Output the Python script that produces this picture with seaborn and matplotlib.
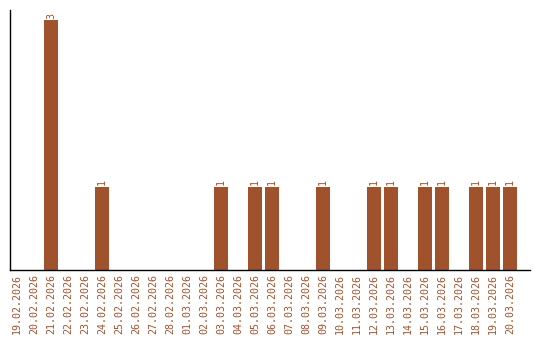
import matplotlib
matplotlib.use("Agg")
import matplotlib.pyplot as plt
import seaborn as sns
import pandas as pd

dates = ["19.02.2026", "20.02.2026", "21.02.2026", "22.02.2026", "23.02.2026",
         "24.02.2026", "25.02.2026", "26.02.2026", "27.02.2026", "28.02.2026",
         "01.03.2026", "02.03.2026", "03.03.2026", "04.03.2026", "05.03.2026",
         "06.03.2026", "07.03.2026", "08.03.2026", "09.03.2026", "10.03.2026",
         "11.03.2026", "12.03.2026", "13.03.2026", "14.03.2026", "15.03.2026",
         "16.03.2026", "17.03.2026", "18.03.2026", "19.03.2026", "20.03.2026"]
counts = [0, 0, 3, 0, 0, 1, 0, 0, 0, 0, 0, 0, 1, 0, 1, 1, 0, 0, 1, 0, 0, 1, 1, 0, 1, 1, 0, 1, 1, 1]

COLOR = "#A0522D"
sns.set_style("white")
plt.rcParams["font.family"] = ["DejaVu Sans Mono", "DejaVu Sans"]

df = pd.DataFrame({"date": dates, "count": counts})
fig = plt.figure(figsize=(5.4, 3.4), dpi=100)
ax = fig.add_axes([10 / 540, 70 / 340, 520 / 540, 260 / 340])
sns.barplot(data=df, x="date", y="count", color=COLOR, saturation=1, width=0.84,
            linewidth=0, ax=ax)

cont = ax.containers[0]
labels = [str(v) if v > 0 else "" for v in counts]
ax.bar_label(cont, labels=labels, rotation=90, fontsize=7.2, color=COLOR, padding=1)

ax.set_xlim(-0.41, 30.18)
ax.set_ylim(0, 3.12)
ax.set_xlabel("")
ax.set_ylabel("")
ax.set_yticks([])
ax.tick_params(axis="x", length=0, pad=3, labelsize=7.2, labelcolor=COLOR, rotation=90)
for s in ["top", "right"]:
    ax.spines[s].set_visible(False)
for s in ["left", "bottom"]:
    ax.spines[s].set_color("black")
    ax.spines[s].set_linewidth(1)

fig.savefig("out.png", dpi=100)
